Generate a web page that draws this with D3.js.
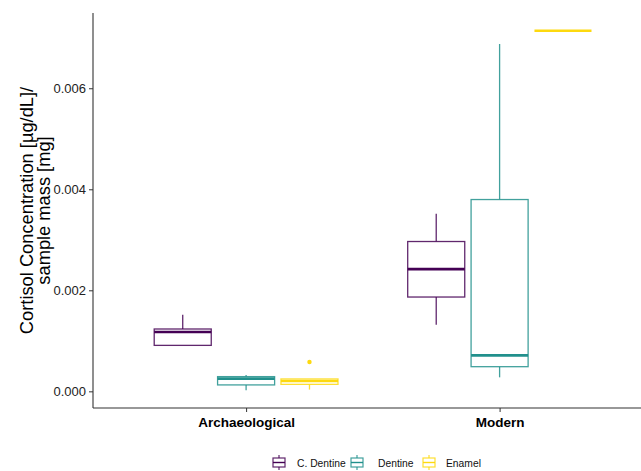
<!DOCTYPE html>
<html>
<head>
<meta charset="utf-8">
<script src="https://cdn.jsdelivr.net/npm/d3@7"></script>
<style>
  body { margin: 0; background: #fff; }
  text { font-family: "Liberation Sans", Arial, sans-serif; }
</style>
</head>
<body>
<div id="grafico"></div>
<script>
const width = 641;
const height = 471;

const grupos = ["Archaeological", "Modern"];
const tipos = ["C. Dentine", "Dentine", "Enamel"];
const colores = ["#440154", "#21908C", "#FDD90F"];

// [whisker min, q1, median, q3, whisker max] per group, same order as tipos
const statsArch = [
  [0.00091, 0.00091, 0.001175, 0.001234, 0.001517],
  [0.00002, 0.000127, 0.000251, 0.000291, 0.000324],
  [0.000034, 0.000138, 0.000206, 0.000245, 0.000245]
];
const statsModern = [
  [0.001319, 0.001867, 0.00242, 0.002966, 0.003514],
  [0.000277, 0.000488, 0.000712, 0.003797, 0.006876],
  [0.007139, 0.007139, 0.007139, 0.007139, 0.007139]
];
const outliers = [{ grupo: "Archaeological", tipo: "Enamel", valor: 0.000581 }];
const yTicks = [0, 0.002, 0.004, 0.006];

const datos = [];
grupos.forEach((g, gi) => {
  const st = gi === 0 ? statsArch : statsModern;
  tipos.forEach((t, ti) => {
    const [lo, q1, med, q3, hi] = st[ti];
    datos.push({ grupo: g, tipo: t, lo, q1, med, q3, hi });
  });
});

const x = d3.scalePoint().domain(grupos).range([94, 651.7]).padding(0.6);
const paso = x.step();
const xSub = d3.scaleBand().domain(tipos).range([-0.375 * paso, 0.375 * paso]);
const boxW = xSub.bandwidth() * 0.9;
const y = d3.scaleLinear().domain([-0.00033, 0.00749]).range([408, 13]);
const color = d3.scaleOrdinal().domain(tipos).range(colores);

const svg = d3.select("#grafico").append("svg")
  .attr("width", width).attr("height", height);

const cx = (d) => x(d.grupo) + xSub(d.tipo) + xSub.bandwidth() / 2;

const cajas = svg.append("g").selectAll("g").data(datos).join("g");

cajas.append("line")
  .attr("x1", cx).attr("x2", cx)
  .attr("y1", (d) => y(d.hi)).attr("y2", (d) => y(d.q3))
  .attr("stroke", (d) => color(d.tipo)).attr("stroke-opacity", 0.85).attr("stroke-width", 1.3);
cajas.append("line")
  .attr("x1", cx).attr("x2", cx)
  .attr("y1", (d) => y(d.q1)).attr("y2", (d) => y(d.lo))
  .attr("stroke", (d) => color(d.tipo)).attr("stroke-opacity", 0.85).attr("stroke-width", 1.3);
cajas.append("rect")
  .attr("x", (d) => cx(d) - boxW / 2)
  .attr("width", boxW)
  .attr("y", (d) => y(d.q3))
  .attr("height", (d) => Math.max(0, y(d.q1) - y(d.q3)))
  .attr("fill", "white")
  .attr("stroke", (d) => color(d.tipo)).attr("stroke-opacity", 0.85).attr("stroke-width", 1.3);
cajas.append("line")
  .attr("x1", (d) => cx(d) - boxW / 2).attr("x2", (d) => cx(d) + boxW / 2)
  .attr("y1", (d) => y(d.med)).attr("y2", (d) => y(d.med))
  .attr("stroke", (d) => color(d.tipo)).attr("stroke-width", 2.6);

svg.append("g").selectAll("circle").data(outliers).join("circle")
  .attr("cx", (d) => x(d.grupo) + xSub(d.tipo) + xSub.bandwidth() / 2)
  .attr("cy", (d) => y(d.valor))
  .attr("r", 2.2)
  .attr("fill", (d) => color(d.tipo));

// ejes
const ejeY = svg.append("g")
  .attr("transform", "translate(93,0)")
  .call(d3.axisLeft(y).tickValues(yTicks).tickFormat(d3.format(".3f")).tickSize(4).tickPadding(3));
ejeY.select(".domain").attr("d", `M0,${y.range()[1]}V${y.range()[0]}`).attr("stroke", "#333").attr("stroke-width", 1.1);
ejeY.selectAll(".tick line").attr("stroke", "#333");
ejeY.selectAll("text").style("font-size", "13px").attr("fill", "#222");

const ejeX = svg.append("g")
  .attr("transform", "translate(0,408)")
  .call(d3.axisBottom(x).tickSize(4).tickPadding(5));
ejeX.select(".domain").attr("d", `M93,0H${width}`).attr("stroke", "#333").attr("stroke-width", 1.1);
ejeX.selectAll(".tick line").attr("stroke", "#333");
ejeX.selectAll("text").style("font-size", "13.5px").attr("font-weight", "bold").attr("fill", "#000");

// titulo eje y
const titulo = svg.append("text")
  .attr("transform", "translate(0,210.5) rotate(-90)")
  .attr("text-anchor", "middle")
  .style("font-size", "18.3px")
  .attr("fill", "#000");
titulo.append("tspan").attr("x", 0).attr("y", 33).text("Cortisol Concentration [µg/dL]/");
titulo.append("tspan").attr("x", 0).attr("y", 50).text("sample mass [mg]");

// leyenda
const leyendas = [
  { texto: "C. Dentine", kx: 279, tx: 297 },
  { texto: "Dentine", kx: 357, tx: 378 },
  { texto: "Enamel", kx: 429, tx: 446 }
];
svg.append("g").selectAll("g").data(leyendas).join("g")
  .each(function (d) {
    const g = d3.select(this);
    const c = color(d.texto);
    g.append("line").attr("x1", d.kx).attr("x2", d.kx).attr("y1", 455).attr("y2", 470)
      .attr("stroke", c).attr("stroke-opacity", 0.85).attr("stroke-width", 1.2);
    g.append("rect").attr("x", d.kx - 6).attr("y", 458).attr("width", 12).attr("height", 9)
      .attr("fill", "white").attr("stroke", c).attr("stroke-opacity", 0.85).attr("stroke-width", 1.2);
    g.append("line").attr("x1", d.kx - 6).attr("x2", d.kx + 6).attr("y1", 462.5).attr("y2", 462.5)
      .attr("stroke", c).attr("stroke-width", 1.4);
    g.append("text").attr("x", d.tx).attr("y", 466.5).text(d.texto)
      .style("font-size", "10.3px").attr("fill", "#111");
  });
</script>
</body>
</html>
